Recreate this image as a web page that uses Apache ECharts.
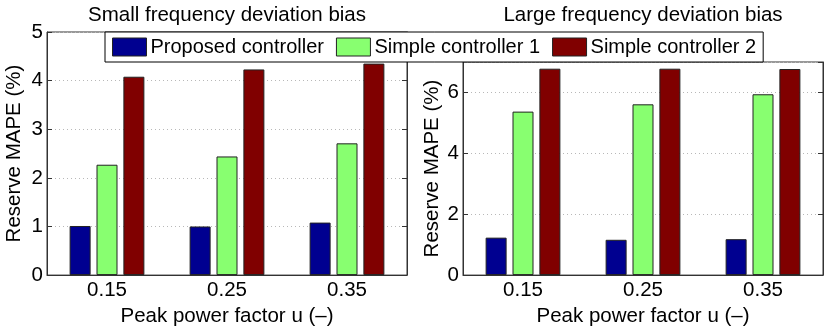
<!DOCTYPE html>
<html>
<head>
<meta charset="utf-8">
<script src="https://cdn.jsdelivr.net/npm/echarts@6/dist/echarts.min.js"></script>
<style>html,body{margin:0;padding:0;background:#fff}#c{width:830px;height:332px}</style>
</head>
<body>
<div id="c"></div>
<script>
const categories = ['0.15', '0.25', '0.35'];
const seriesNames = ['Proposed controller', 'Simple controller 1', 'Simple controller 2'];
const smallProposed = [1.01, 1.00, 1.08];
const smallSimple1 = [2.27, 2.44, 2.71];
const smallSimple2 = [4.08, 4.23, 4.35];
const largeProposed = [1.23, 1.16, 1.18];
const largeSimple1 = [5.37, 5.61, 5.94];
const largeSimple2 = [6.78, 6.78, 6.77];
const titles = ['Small frequency deviation bias', 'Large frequency deviation bias'];
const yName = 'Reserve MAPE (%)';
const xName = 'Peak power factor u (\u2013)';

const colors = ['#000090', '#88FF70', '#800000'];
const FONT = "'Liberation Sans', Arial, Helvetica, sans-serif";
const FS = 20.5;
const chart = echarts.init(document.getElementById('c'), null, {renderer: 'canvas'});

function yAxisDef(gi, max, interval, gap, right) {
  return {
    type: 'value', gridIndex: gi, min: 0, max: max, interval: interval,
    position: right ? 'right' : 'left',
    name: right ? '' : yName, nameLocation: 'middle', nameGap: gap,
    nameTextStyle: {fontSize: FS, color: '#000', fontFamily: FONT},
    axisLine: {show: true, lineStyle: {color: '#333', width: 1}},
    axisTick: {show: true, inside: true, length: 5, lineStyle: {color: '#333'}},
    axisLabel: {show: !right, fontSize: FS, color: '#000', fontFamily: FONT, margin: 4, showMaxLabel: max % interval === 0},
    splitLine: {show: !right, lineStyle: {color: '#b8b8b8', type: [1, 3], width: 1}}
  };
}
function xAxisDef(gi) {
  return {
    type: 'category', gridIndex: gi, data: categories,
    name: xName, nameLocation: 'middle', nameGap: 22,
    nameTextStyle: {fontSize: FS, color: '#000', fontFamily: FONT},
    axisLine: {show: true, lineStyle: {color: '#333', width: 1}},
    axisTick: {show: false},
    axisLabel: {fontSize: FS, color: '#000', fontFamily: FONT, margin: 5}
  };
}
function bar(name, data, gi, ci) {
  return {
    type: 'bar', name: name, data: data, xAxisIndex: gi, yAxisIndex: gi * 2,
    barWidth: 21, barGap: '28%',
    itemStyle: {color: colors[ci], borderColor: '#222', borderWidth: 1},
    emphasis: {disabled: true}
  };
}

const option = {
  animation: false,
  textStyle: {fontFamily: FONT},
  grid: [
    {left: 47, top: 32, width: 360, height: 249.7, show: true, borderColor: '#333', borderWidth: 1, backgroundColor: 'transparent'},
    {left: 463, top: 62, width: 360, height: 219.7, show: true, borderColor: '#333', borderWidth: 1, backgroundColor: 'transparent'}
  ],
  xAxis: [xAxisDef(0), xAxisDef(1)],
  yAxis: [
    yAxisDef(0, 5, 1, 22, false), yAxisDef(0, 5, 1, 0, true),
    yAxisDef(1, 7, 2, 20, false), yAxisDef(1, 7, 2, 0, true)
  ],
  legend: {
    data: seriesNames.map(n => ({name: n, icon: 'rect'})), left: 105, top: 32, orient: 'horizontal',
    itemWidth: 34, itemHeight: 18, itemGap: 12,
    padding: [5, 7, 5, 7], borderColor: '#000', borderWidth: 1, backgroundColor: '#fff',
    textStyle: {fontSize: 20, color: '#000', fontFamily: FONT, padding: [0, 0, 0, -1]},
    itemStyle: {borderColor: '#222', borderWidth: 1},
    selectedMode: false, z: 10
  },
  graphic: [
    {type: 'text', x: 227, y: 5, z: 20, style: {text: titles[0], fontSize: FS, fontFamily: FONT, fill: '#000', textAlign: 'center', textVerticalAlign: 'top'}},
    {type: 'text', x: 643, y: 5, z: 20, style: {text: titles[1], fontSize: FS, fontFamily: FONT, fill: '#000', textAlign: 'center', textVerticalAlign: 'top'}}
  ],
  series: [
    bar(seriesNames[0], smallProposed, 0, 0),
    bar(seriesNames[1], smallSimple1, 0, 1),
    bar(seriesNames[2], smallSimple2, 0, 2),
    bar(seriesNames[0], largeProposed, 1, 0),
    bar(seriesNames[1], largeSimple1, 1, 1),
    bar(seriesNames[2], largeSimple2, 1, 2)
  ]
};
chart.setOption(option);
</script>
</body>
</html>
